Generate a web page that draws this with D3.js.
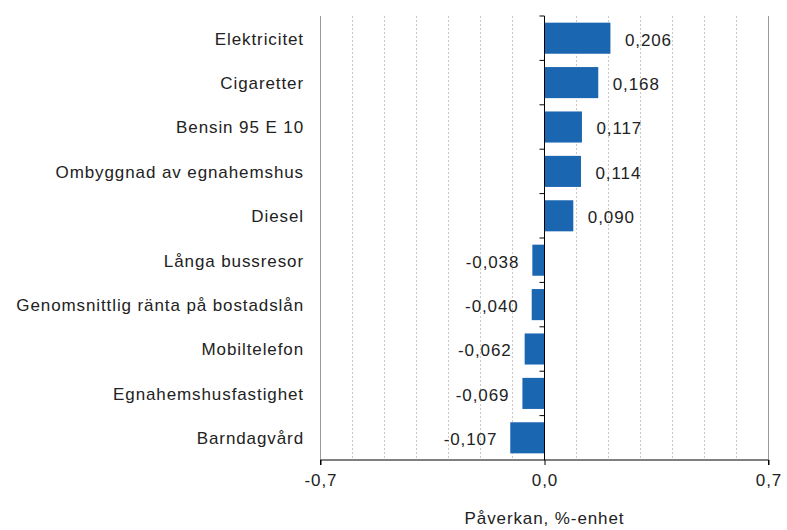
<!DOCTYPE html>
<html><head><meta charset="utf-8">
<script src="https://cdn.jsdelivr.net/npm/d3@7"></script>
<style>body{margin:0;background:#fff}text{font-family:"Liberation Sans",Arial,sans-serif}</style>
</head><body><svg id="c" width="787" height="530"></svg>
<script>
const categories = ["Elektricitet","Cigaretter","Bensin 95 E 10","Ombyggnad av egnahemshus","Diesel","Långa bussresor","Genomsnittlig ränta på bostadslån","Mobiltelefon","Egnahemshusfastighet","Barndagvård"];
const values = [0.206,0.168,0.117,0.114,0.090,-0.038,-0.040,-0.062,-0.069,-0.107];
const tickValues = [-0.7,0,0.7];
const gridValues = [-0.6,-0.5,-0.4,-0.3,-0.2,-0.1,0.1,0.2,0.3,0.4,0.5,0.6];
const axisTitle = "Påverkan, %-enhet";

const FS = "17px", LS = "0.9px";
const svg = d3.select("#c");
const m = {l:320.5, r:768.5, t:16, b:460};
const x = d3.scaleLinear().domain([-0.7,0.7]).range([m.l,m.r]);
const y = d3.scaleBand().domain(categories).range([m.t,m.b]).paddingInner(0.3).paddingOuter(0.15);
const fmt = v => d3.format(".3f")(v).replace(".",",").replace("−","-");

svg.append("g").selectAll("line").data(gridValues).join("line")
  .attr("x1",d=>x(d)).attr("x2",d=>x(d)).attr("y1",m.t).attr("y2",m.b)
  .attr("stroke","#c8c8c8").attr("stroke-dasharray","2,2");
svg.append("g").selectAll("line").data([-0.7,0.7]).join("line")
  .attr("x1",d=>x(d)).attr("x2",d=>x(d)).attr("y1",m.t).attr("y2",m.b)
  .attr("stroke","#9a9a9a");

svg.append("g").selectAll("rect").data(values).join("rect")
  .attr("x",d=>x(Math.min(0,d))).attr("width",d=>Math.abs(x(d)-x(0)))
  .attr("y",(d,i)=>y(categories[i])).attr("height",y.bandwidth())
  .attr("fill","#1b66b1");

// zero axis
svg.append("line").attr("x1",x(0)).attr("x2",x(0)).attr("y1",m.t).attr("y2",m.b).attr("stroke","#000");
const step = (m.b-m.t)/categories.length;
svg.append("g").selectAll("line").data(d3.range(categories.length)).join("line")
  .attr("x1",x(0)-5).attr("x2",x(0)).attr("y1",i=>m.t+i*step).attr("y2",i=>m.t+i*step).attr("stroke","#000");

// bottom axis
const xa = svg.append("g").attr("transform",`translate(0,${m.b})`)
  .call(d3.axisBottom(x).tickValues(tickValues).tickSize(5).tickPadding(9).tickFormat(d=>d3.format(".1f")(d).replace(".",",").replace("−","-")));
xa.select(".domain").attr("stroke","#000").attr("d",`M${m.l},5V0H${m.r}V5`);
xa.selectAll("text").attr("font-size",FS).attr("letter-spacing",LS).attr("fill","#222").attr("font-family","Liberation Sans, Arial, sans-serif");

// category labels
svg.append("g").selectAll("text").data(categories).join("text")
  .attr("x",304).attr("y",d=>y(d)+y.bandwidth()/2).attr("dy","0.38em")
  .attr("text-anchor","end").attr("font-size",FS).attr("letter-spacing",LS).attr("fill","#222").text(d=>d);

// value labels
svg.append("g").selectAll("text").data(values).join("text")
  .attr("x",d=> d>=0 ? x(d)+14.5 : x(d)-13)
  .attr("y",(d,i)=>y(categories[i])+y.bandwidth()/2+1).attr("dy","0.38em")
  .attr("text-anchor",d=>d>=0?"start":"end").attr("font-size",FS).attr("letter-spacing",LS).attr("fill","#222").text(fmt);

svg.append("text").attr("x",x(0)).attr("y",524).attr("text-anchor","middle")
  .attr("font-size",FS).attr("letter-spacing",LS).attr("fill","#222").text(axisTitle);
</script></body></html>
